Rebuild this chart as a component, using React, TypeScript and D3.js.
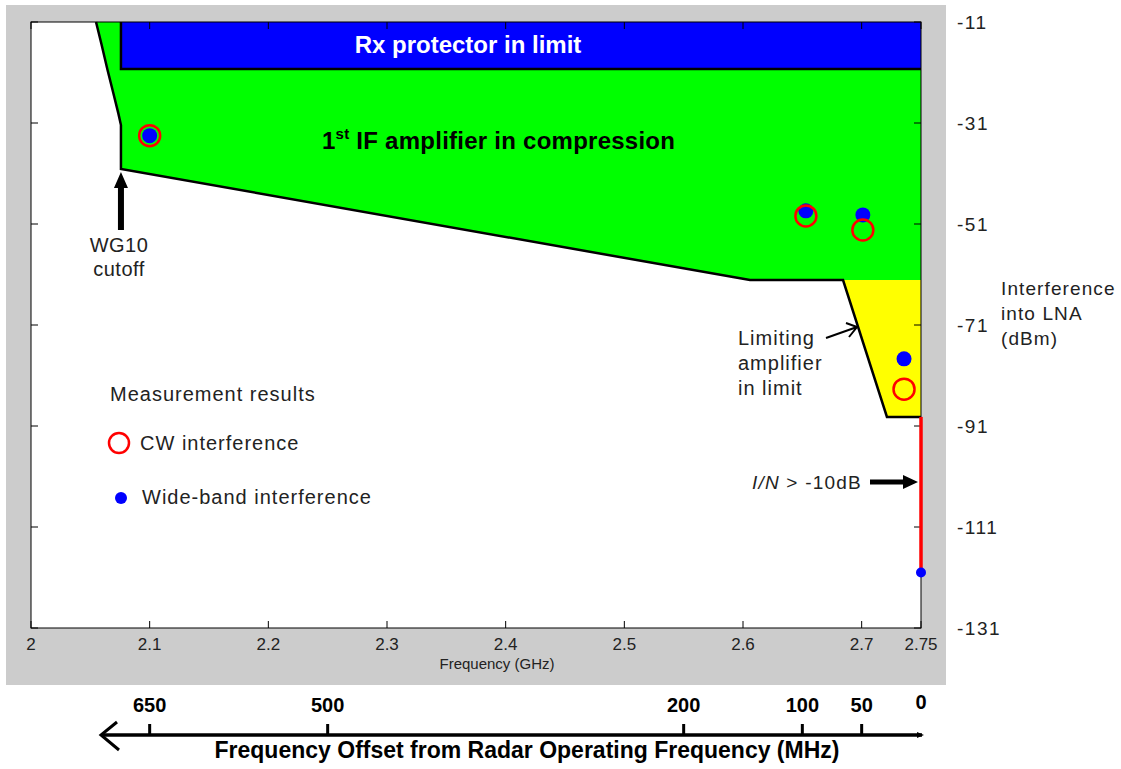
import React from "react";
import * as d3 from "d3";

// Frequency ticks (GHz) and interference-level ticks (dBm)
const freqTicks = [2, 2.1, 2.2, 2.3, 2.4, 2.5, 2.6, 2.7, 2.75];
const levelTicks = [-11, -31, -51, -71, -91, -111, -131];

// Offset from the radar operating frequency (MHz), operating at 2.75 GHz
const operatingFreq = 2.75;
const offsetTicks = [650, 500, 200, 100, 50, 0];

// WG10 waveguide cutoff edge (freq GHz, level dBm)
const cutoffCurve: [number, number][] = [
  [2.0548, -11],
  [2.0595, -15.5],
  [2.0645, -20.5],
  [2.0693, -25],
  [2.0735, -29],
  [2.0758, -31.4],
  [2.0758, -40.1],
];
// Lower edge of the 1st IF compression region
const compressionEdge: [number, number][] = [
  [2.0758, -40.1],
  [2.6059, -62.1],
  [2.6843, -62.1],
];
// Limiting amplifier region edge
const limiterEdge: [number, number][] = [
  [2.6843, -62.1],
  [2.7213, -89.2],
  [2.75, -89.2],
];
// Rx protector limit region
const protectorStart = 2.0758;
const protectorLevel = -20.3;
// I/N > -10 dB segment at the operating frequency
const inSegment: [number, number] = [-89.2, -120];

// Measurement results
const cwPoints = [
  { f: 2.1, d: -33.5 },
  { f: 2.653, d: -49.4 },
  { f: 2.701, d: -52.2 },
  { f: 2.7357, d: -83.7 },
];
const widebandPoints = [
  { f: 2.1, d: -33.5 },
  { f: 2.653, d: -48.4 },
  { f: 2.701, d: -49.2 },
  { f: 2.7357, d: -77.7 },
  { f: 2.75, d: -120 },
];

const FONT = "'Liberation Sans', Arial, sans-serif";

export default function App() {
  const x = d3.scaleLinear().domain([2, 2.75]).range([31, 921]);
  const y = d3.scaleLinear().domain([-131, -11]).range([628, 22]);
  const line = d3
    .line<[number, number]>()
    .x((p) => x(p[0]))
    .y((p) => y(p[1]));

  const greenPoly: [number, number][] = [
    ...cutoffCurve,
    ...compressionEdge.slice(1),
    [2.75, -62.1],
    [2.75, -11],
  ];
  const yellowPoly: [number, number][] = [...limiterEdge, [2.75, -62.1]];
  const outline: [number, number][] = [
    ...cutoffCurve,
    ...compressionEdge.slice(1),
    ...limiterEdge.slice(1),
  ];

  const x0 = x(2),
    x1 = x(2.75),
    y0 = y(-11),
    y1 = y(-131);
  const tickLen = 7;
  const offY = 735;
  const xc = x(2.0758);
  const xOp = x(operatingFreq);

  return (
    <svg
      width={1121}
      height={769}
      style={{ position: "absolute", left: 0, top: 0, background: "#fff" }}
      fontFamily={FONT}
    >
      <rect x={6} y={5} width={940} height={680} fill="#cccccc" />
      <rect x={x0} y={y0} width={x1 - x0} height={y1 - y0} fill="#fff" />

      {/* regions */}
      <path d={line(greenPoly) + "Z"} fill="#00ff00" />
      <path d={line(yellowPoly) + "Z"} fill="#ffff00" />
      <rect
        x={x(protectorStart)}
        y={y0}
        width={x1 - x(protectorStart)}
        height={y(protectorLevel) - y0}
        fill="#0000ff"
      />
      <path
        d={
          line([
            [protectorStart, -11],
            [protectorStart, protectorLevel],
            [2.75, protectorLevel],
          ]) || ""
        }
        fill="none"
        stroke="#000"
        strokeWidth={2.5}
      />
      <path d={line(outline) || ""} fill="none" stroke="#000" strokeWidth={2.5} />

      {/* axes box and ticks */}
      <rect x={x0} y={y0} width={x1 - x0} height={y1 - y0} fill="none" stroke="#000" strokeWidth={1} />
      {freqTicks.map((t) => (
        <g key={"xt" + t}>
          <line x1={x(t)} x2={x(t)} y1={y1} y2={y1 - tickLen} stroke="#000" />
          <line x1={x(t)} x2={x(t)} y1={y0} y2={y0 + tickLen} stroke="#000" />
          <text x={x(t)} y={650} fontSize={17} textAnchor="middle" fill="#222">
            {String(t)}
          </text>
        </g>
      ))}
      {levelTicks.map((t) => (
        <g key={"yt" + t}>
          <line x1={x0} x2={x0 + tickLen} y1={y(t)} y2={y(t)} stroke="#000" />
          <line x1={x1} x2={x1 - tickLen} y1={y(t)} y2={y(t)} stroke="#000" />
          <text x={957} y={y(t) + 7} fontSize={19} letterSpacing={1.5} fill="#222">
            {String(t)}
          </text>
        </g>
      ))}
      <text x={497} y={669} fontSize={15} textAnchor="middle" fill="#222">
        Frequency (GHz)
      </text>
      <text fontSize={19} letterSpacing={1.1} fill="#222">
        <tspan x={1001} y={295}>Interference</tspan>
        <tspan x={1001} y={320}>into LNA</tspan>
        <tspan x={1001} y={345}>(dBm)</tspan>
      </text>

      {/* I/N > -10 dB segment */}
      <line
        x1={xOp}
        x2={xOp}
        y1={y(inSegment[0])}
        y2={y(inSegment[1])}
        stroke="#ff0000"
        strokeWidth={3.5}
      />

      {/* region labels */}
      <text x={468} y={53} fontSize={24} fontWeight="bold" fill="#fff" textAnchor="middle">
        Rx protector in limit
      </text>
      <text x={322} y={149} fontSize={24} fontWeight="bold" fill="#000" letterSpacing={0.25}>
        1
        <tspan fontSize={15} dy={-10}>st</tspan>
        <tspan dy={10}> IF amplifier in compression</tspan>
      </text>

      {/* measurement markers */}
      {widebandPoints.map((p, i) => (
        <circle
          key={"wb" + i}
          cx={x(p.f)}
          cy={y(p.d)}
          r={p.f === operatingFreq ? 5 : 7.5}
          fill="#0000ff"
        />
      ))}
      {cwPoints.map((p, i) => (
        <circle
          key={"cw" + i}
          cx={x(p.f)}
          cy={y(p.d)}
          r={10.5}
          fill="none"
          stroke="#ff0000"
          strokeWidth={2.5}
        />
      ))}

      {/* WG10 cutoff annotation */}
      <path
        d={`M${xc},172 L${xc + 7},188 L${xc + 3},188 L${xc + 3},230 L${xc - 3},230 L${xc - 3},188 L${xc - 7},188 Z`}
        fill="#000"
      />
      <text fontSize={20} fill="#222" textAnchor="middle" letterSpacing={0.5}>
        <tspan x={119} y={252}>WG10</tspan>
        <tspan x={119} y={276}>cutoff</tspan>
      </text>

      {/* Limiting amplifier annotation */}
      <path d="M826,338 L857,327 M846,323 L857,327 L849,337" fill="none" stroke="#000" strokeWidth={2} />
      <text fontSize={20} fill="#222" letterSpacing={1}>
        <tspan x={738} y={345}>Limiting</tspan>
        <tspan x={738} y={370}>amplifier</tspan>
        <tspan x={738} y={395}>in limit</tspan>
      </text>

      {/* I/N annotation */}
      <text x={752} y={489} fontSize={19} fill="#222" letterSpacing={1.2}>
        <tspan fontStyle="italic">I/N</tspan> &gt; -10dB
      </text>
      <path d="M870,479.5 L903,479.5 L903,475 L918,482 L903,489 L903,484.5 L870,484.5 Z" fill="#000" />

      {/* legend */}
      <text x={110} y={401} fontSize={20} fill="#222" letterSpacing={1}>
        Measurement results
      </text>
      <circle cx={119} cy={443} r={10} fill="none" stroke="#ff0000" strokeWidth={2.5} />
      <text x={140} y={450} fontSize={20} fill="#222" letterSpacing={1}>
        CW interference
      </text>
      <circle cx={121} cy={498} r={6} fill="#0000ff" />
      <text x={142} y={504} fontSize={20} fill="#222" letterSpacing={1}>
        Wide-band interference
      </text>

      {/* offset axis */}
      <line x1={101} x2={xOp + 1} y1={offY} y2={offY} stroke="#000" strokeWidth={3.5} />
      <path d={`M117,722 L101,${offY} L119,750`} fill="none" stroke="#000" strokeWidth={3} />
      <path d={`M${xOp - 4},${offY - 3} L${xOp + 3},${offY} L${xOp - 4},${offY + 3}Z`} fill="#000" />
      {offsetTicks.map((o) => {
        const px = x(operatingFreq - o / 1000);
        return (
          <g key={"ot" + o}>
            {o !== 0 && (
              <line x1={px} x2={px} y1={offY - 11} y2={offY} stroke="#000" strokeWidth={3} />
            )}
            <text
              x={px}
              y={o === 0 ? 709 : 712}
              fontSize={20}
              fontWeight="bold"
              textAnchor="middle"
              fill="#000"
            >
              {String(o)}
            </text>
          </g>
        );
      })}
      <text x={527} y={758} fontSize={23} fontWeight="bold" textAnchor="middle" fill="#000">
        Frequency Offset from Radar Operating Frequency (MHz)
      </text>
    </svg>
  );
}
